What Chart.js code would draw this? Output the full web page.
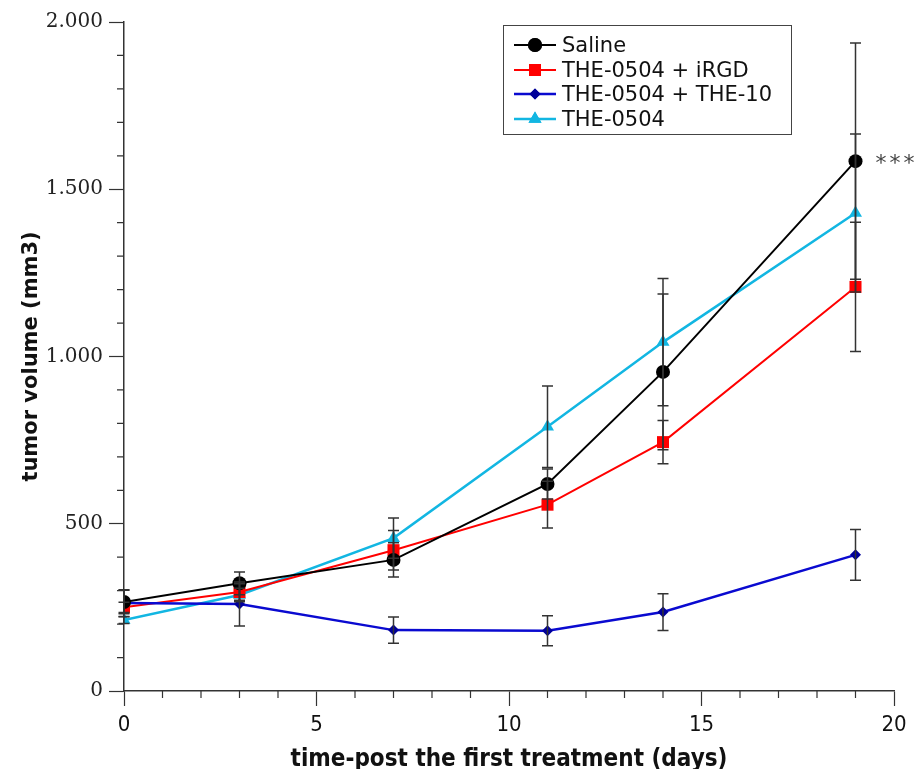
<!DOCTYPE html>
<html>
<head>
<meta charset="utf-8">
<script src="https://cdn.jsdelivr.net/npm/chart.js@4.4.1/dist/chart.umd.min.js"></script>
<style>
  html, body { margin: 0; padding: 0; background: #fff; }
  #wrap { position: relative; width: 917px; height: 769px; overflow: hidden; }
  #legend { position: absolute; left: 503px; top: 25px; width: 287px; height: 108px;
    border: 1.5px solid #444; background: #fff; box-sizing: content-box; }
  .row { position: absolute; left: 8px; height: 24px; display: flex; align-items: center; }
  .row canvas { width: 46px; height: 16px; margin-right: 4px; }
  .row span { font-family: 'DejaVu Sans', sans-serif; font-size: 21px; color: #111; white-space: nowrap; }
</style>
</head>
<body>
<div id="wrap">
  <canvas id="c" width="917" height="769"></canvas>
  <div id="legend"></div>
</div>
<script>
const days = [0, 3, 7, 11, 14, 19];
const seriesNames = ['Saline', 'THE-0504 + iRGD', 'THE-0504 + THE-10', 'THE-0504'];
const saline = [266, 322, 392, 619, 954, 1584];
const salineErr = [35, 34, 51, 45, 233, 353];
const irgd = [250, 296, 421, 557, 744, 1208];
const irgdErr = [15, 25, 59, 70, 65, 193];
const the10 = [263, 260, 182, 180, 236, 407];
const the10Err = [40, 66, 39, 45, 55, 76];
const the0504 = [212, 287, 457, 790, 1043, 1429];
const the0504Err = [10, 20, 60, 122, 190, 236];
const yTicks = [0, 500, 1000, 1500, 2000];
const yTickLabels = ['0', '500', '1.000', '1.500', '2.000'];
const xTicks = [0, 5, 10, 15, 20];
const significance = '***';

const styles = [
  { color: '#000000', point: 'circle', radius: 7, width: 2 },
  { color: '#ff0000', point: 'rect', radius: 8.5, width: 2 },
  { color: '#0a0ad0', point: 'rectRot', radius: 5.5, width: 2.5, pointColor: '#00009a' },
  { color: '#12b6e2', point: 'triangle', radius: 7.5, width: 2.5 }
];
const values = [saline, irgd, the10, the0504];
const errors = [salineErr, irgdErr, the10Err, the0504Err];
const drawOrder = [0, 2, 1, 3];

const datasets = values.map((vals, i) => ({
  label: seriesNames[i],
  data: days.map((d, j) => ({ x: d, y: vals[j] })),
  borderColor: styles[i].color,
  backgroundColor: styles[i].pointColor || styles[i].color,
  pointBackgroundColor: styles[i].pointColor || styles[i].color,
  pointBorderColor: styles[i].pointColor || styles[i].color,
  pointBorderWidth: 0,
  borderWidth: styles[i].width,
  pointStyle: styles[i].point,
  pointRadius: styles[i].radius,
  tension: 0,
  order: drawOrder[i],
  errs: errors[i]
}));

const errorBars = {
  id: 'errorBars',
  afterDatasetsDraw(chart) {
    const ctx = chart.ctx, xs = chart.scales.x, ys = chart.scales.y;
    ctx.save();
    ctx.strokeStyle = '#333';
    ctx.lineWidth = 1.5;
    chart.data.datasets.forEach(ds => {
      ds.data.forEach((p, j) => {
        const e = ds.errs[j];
        const x = xs.getPixelForValue(p.x);
        const y1 = ys.getPixelForValue(p.y - e);
        const y2 = ys.getPixelForValue(p.y + e);
        ctx.beginPath();
        ctx.moveTo(x, y1); ctx.lineTo(x, y2);
        ctx.moveTo(x - 5.5, y1); ctx.lineTo(x + 5.5, y1);
        ctx.moveTo(x - 5.5, y2); ctx.lineTo(x + 5.5, y2);
        ctx.stroke();
      });
    });
    // significance marker next to last Saline point
    const last = days.length - 1;
    const sx = xs.getPixelForValue(days[last]);
    const sy = ys.getPixelForValue(saline[last]);
    ctx.fillStyle = '#444';
    ctx.font = '22px "DejaVu Sans", sans-serif';
    ctx.letterSpacing = '3px';
    ctx.textBaseline = 'middle';
    ctx.textAlign = 'left';
    ctx.fillText(significance, sx + 20, sy + 3);
    ctx.restore();
  }
};

const minorTicks = {
  id: 'minorTicks',
  afterDraw(chart) {
    const ctx = chart.ctx, xs = chart.scales.x, ys = chart.scales.y;
    ctx.save();
    ctx.strokeStyle = '#333';
    ctx.lineWidth = 1.2;
    ctx.beginPath();
    for (let v = 1; v < 20; v++) {
      if (v % 5 === 0) continue;
      const x = xs.getPixelForValue(v);
      ctx.moveTo(x, xs.top); ctx.lineTo(x, xs.top + 7);
    }
    for (let v = 100; v < 2000; v += 100) {
      if (v % 500 === 0) continue;
      const y = ys.getPixelForValue(v);
      ctx.moveTo(ys.right, y); ctx.lineTo(ys.right - 7, y);
    }
    ctx.stroke();
    ctx.restore();
  }
};

new Chart(document.getElementById('c'), {
  type: 'line',
  data: { datasets },
  options: {
    responsive: false,
    animation: false,
    events: [],
    layout: { padding: { left: 0, top: 22, right: 23, bottom: 0 } },
    plugins: { legend: { display: false }, tooltip: { enabled: false } },
    scales: {
      x: {
        type: 'linear', min: 0, max: 20,
        afterFit(s) { s.height = 78; },
        afterBuildTicks(s) { s.ticks = xTicks.map(v => ({ value: v })); },
        border: { display: true, color: '#333', width: 1.5 },
        grid: { drawOnChartArea: false, drawTicks: true, tickLength: 15, tickColor: '#333', tickWidth: 1.2 },
        ticks: {
          color: '#111', padding: 6,
          font: { family: "'Liberation Sans Narrow', 'DejaVu Sans Condensed', sans-serif", size: 22 },
          callback: v => String(v)
        },
        title: {
          display: true, text: 'time-post the first treatment (days)', color: '#111',
          font: { family: "'Liberation Sans Narrow', 'DejaVu Sans Condensed', sans-serif", size: 24, weight: 'bold', lineHeight: 0.8 },
          padding: { top: 0, bottom: 0 }
        }
      },
      y: {
        type: 'linear', min: 0, max: 2000,
        afterFit(s) { s.width = 124; },
        afterBuildTicks(s) { s.ticks = yTicks.map(v => ({ value: v })); },
        border: { display: true, color: '#333', width: 1.5 },
        grid: { drawOnChartArea: false, drawTicks: true, tickLength: 15, tickColor: '#333', tickWidth: 1.2 },
        ticks: {
          color: '#222', padding: 6,
          font: { family: "'DejaVu Serif', serif", size: 20 },
          callback: v => yTickLabels[yTicks.indexOf(v)]
        },
        title: {
          display: true, text: 'tumor volume (mm3)', color: '#111',
          font: { family: "'DejaVu Sans', sans-serif", size: 21, weight: 'bold', lineHeight: 1.2 },
          padding: { top: 19, bottom: 0 }
        }
      }
    }
  },
  plugins: [errorBars, minorTicks]
});

// HTML legend with line + marker icons
const legend = document.getElementById('legend');
seriesNames.forEach((name, i) => {
  const row = document.createElement('div');
  row.className = 'row';
  row.style.top = (7 + i * 24.5) + 'px';
  const cv = document.createElement('canvas');
  cv.width = 46; cv.height = 16;
  const g = cv.getContext('2d');
  g.strokeStyle = styles[i].color; g.lineWidth = styles[i].width;
  g.beginPath(); g.moveTo(2, 8); g.lineTo(44, 8); g.stroke();
  g.fillStyle = styles[i].pointColor || styles[i].color;
  Chart.helpers.drawPoint(g, { pointStyle: styles[i].point, radius: styles[i].radius, borderWidth: 0 }, 23, 8);
  g.fill();
  const sp = document.createElement('span');
  sp.textContent = name;
  row.appendChild(cv); row.appendChild(sp);
  legend.appendChild(row);
});
</script>
</body>
</html>
